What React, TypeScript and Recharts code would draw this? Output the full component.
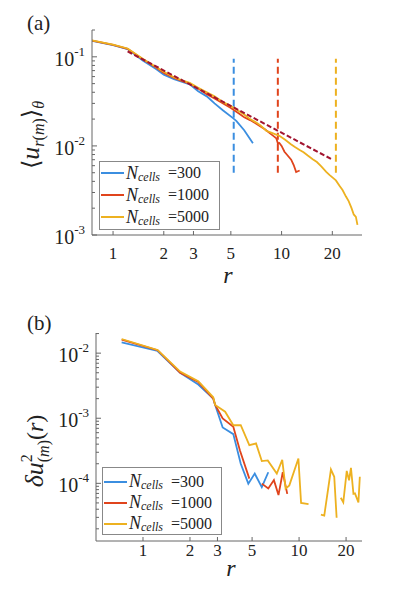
import React from 'react';
import { LineChart, Line, XAxis, YAxis, ReferenceLine } from 'recharts';

const SERIF = "'Times New Roman', 'Liberation Serif', Tinos, 'Nimbus Roman', 'Noto Serif', 'DejaVu Serif', serif";
const C300 = '#3b8ee0';
const C1000 = '#e0441c';
const C5000 = '#edb120';
const CFIT = '#a2142f';
const AXIS = '#666';

// ---------- panel (a) ----------
const rA300 = [0.75, 1.0, 1.22, 1.5, 1.8, 2.0, 2.3, 2.6, 2.85, 3.2, 3.6, 4.0, 4.5, 5.15, 5.4, 6.0, 6.76];
const uA300 = [0.151, 0.135, 0.122, 0.091, 0.073, 0.063, 0.056, 0.052, 0.049, 0.041, 0.036, 0.030, 0.025, 0.0205, 0.019, 0.015, 0.0107];

const rA1000 = [0.75, 1.0, 1.22, 1.5, 1.8, 2.0, 2.3, 2.6, 2.85, 3.2, 3.6, 4.0, 4.5, 5.0, 5.5, 6.0, 6.5, 7.0, 7.5, 8.0, 8.5, 9.0, 9.3, 9.5, 9.7, 10.0, 10.4, 10.8, 11.4, 11.8, 12.2, 12.5, 12.8];
const uA1000 = [0.152, 0.136, 0.123, 0.094, 0.076, 0.066, 0.058, 0.053, 0.050, 0.044, 0.038, 0.034, 0.030, 0.0266, 0.0235, 0.021, 0.0195, 0.018, 0.0165, 0.0153, 0.0139, 0.0128, 0.0122, 0.0107, 0.0108, 0.0100, 0.0086, 0.0079, 0.0070, 0.0061, 0.0051, 0.0052, 0.0053];

const rA5000 = [0.75, 1.0, 1.22, 1.5, 1.8, 2.0, 2.3, 2.6, 2.85, 3.2, 3.6, 4.0, 4.5, 5.0, 5.5, 6.0, 6.5, 7.0, 7.5, 8.1, 8.6, 9.2, 9.7, 10.5, 11.3, 12.0, 12.8, 13.5, 14.3, 15.3, 16.2, 17.2, 18.4, 19.3, 20.1, 21.0, 22.0, 23.0, 24.1, 25.0, 26.0, 26.8, 27.6, 28.2];
const uA5000 = [0.153, 0.137, 0.124, 0.095, 0.077, 0.068, 0.059, 0.054, 0.051, 0.045, 0.040, 0.036, 0.031, 0.028, 0.025, 0.0225, 0.020, 0.0185, 0.017, 0.0148, 0.0142, 0.0135, 0.0130, 0.0117, 0.0105, 0.0097, 0.0090, 0.0085, 0.0078, 0.0071, 0.0066, 0.0059, 0.0051, 0.0047, 0.0044, 0.0041, 0.0036, 0.0032, 0.0027, 0.0024, 0.0020, 0.0017, 0.0016, 0.0013];

const fitR = [1.22, 19.8];
const fitU = [0.115, 0.0071];

const cutoffR = [5.2, 9.5, 21];
const cutoffU = [0.005, 0.095];

// ---------- panel (b) ----------
const rB300 = [0.73, 1.24, 1.73, 2.26, 2.82, 2.9, 3.24, 3.79, 4.23, 4.73, 5.2, 5.77, 6.35];
const dB300 = [0.0146, 0.0108, 0.0050, 0.0033, 0.0020, 0.0016, 0.00072, 0.00057, 0.00020, 0.0000989, 0.000141, 0.0000872, 0.000148];

const rB1000 = [0.73, 1.24, 1.73, 2.26, 2.82, 2.9, 3.24, 3.79, 4.18, 4.8, 5.3, 5.77, 6.35, 6.9, 7.38, 7.86, 8.4];
const dB1000 = [0.0162, 0.0111, 0.0050, 0.0036, 0.0020, 0.0016, 0.00099, 0.00074, 0.00032, 0.000118, null, 0.0000989, 0.0000831, 0.000112, 0.000066, 0.000148, 0.000069];

const rB5000 = [0.73, 1.24, 1.73, 2.26, 2.82, 2.9, 3.36, 3.79, 4.23, 4.8, 5.3, 5.77, 6.3, 7.2, 7.8, 8.2, 8.66, 9.9, 10.3, 11.5, 12.5, 13.8, 14.5, 16, 16.8, 17.4, 18.0, 18.5, 19.2, 20.2, 20.9, 21.5, 22.3, 22.8, 24, 24.5];
const dB5000 = [0.0165, 0.0112, 0.0052, 0.0037, 0.0021, 0.0016, 0.00126, 0.00078, 0.00078, 0.000385, 0.00041, 0.00022, 0.000225, 0.000141, 0.00023, 0.000083, 0.000093, 0.00024, 0.00005, 0.000048, null, 0.000033, 0.000032, 0.000163, 0.000126, 0.0000296, null, 0.00006, 0.000051, 0.000155, 0.000111, 0.000173, 0.000069, 0.00007, 0.000051, 0.000126];

// ---------- ticks / labels ----------
const xTicks = [1, 2, 3, 5, 10, 20];
const yTicksA = [0.001, 0.002, 0.003, 0.004, 0.005, 0.006, 0.007, 0.008, 0.009, 0.01, 0.02, 0.03, 0.04, 0.05, 0.06, 0.07, 0.08, 0.09, 0.1, 0.2];
const yTicksB = [0.00002, 0.00003, 0.00004, 0.00005, 0.00006, 0.00007, 0.00008, 0.00009, 0.0001, 0.0002, 0.0003, 0.0004, 0.0005, 0.0006, 0.0007, 0.0008, 0.0009, 0.001, 0.002, 0.003, 0.004, 0.005, 0.006, 0.007, 0.008, 0.009, 0.01, 0.02];
const seriesNames = ['300', '1000', '5000'];
const seriesColors = [C300, C1000, C5000];

const zip = (r: number[], v: (number | null)[]) => r.map((x, i) => ({ r: x, v: v[i] }));

const XTick = (off: number) => (props: any) => {
  const { x, y, payload } = props;
  return (
    <g>
      <line x1={x} x2={x} y1={y} y2={y - 4} stroke={AXIS} />
      <text x={x} y={y + off} textAnchor="middle" style={{ fontFamily: SERIF }} fontSize={17} fill="#222">
        {payload.value}
      </text>
    </g>
  );
};

const YTick = (props: any) => {
  const { x, y, payload } = props;
  const e = Math.log10(payload.value);
  const major = Math.abs(e - Math.round(e)) < 1e-6;
  return (
    <g>
      <line x1={x} x2={x + (major ? 5 : 3)} y1={y} y2={y} stroke={AXIS} />
      {major && (
        <text x={x - 7} y={y + 9} textAnchor="end" style={{ fontFamily: SERIF }} fontSize={20} fill="#222">
          10<tspan dy={-10} fontSize={13}>{'-' + Math.abs(Math.round(e))}</tspan>
        </text>
      )}
    </g>
  );
};

const LegendBox = ({ left, top, width, height, rowH, padTop }: any) => (
  <div
    style={{
      position: 'absolute', left, top, width, height, boxSizing: 'border-box', paddingTop: padTop,
      border: '1px solid #888', background: '#fff', fontFamily: SERIF, color: '#222',
    }}
  >
    {seriesNames.map((n, i) => (
      <div key={n} style={{ display: 'flex', alignItems: 'center', height: rowH, whiteSpace: 'nowrap' }}>
        <span style={{ display: 'inline-block', width: 23, height: 2, background: seriesColors[i], marginLeft: 1, marginRight: 2 }} />
        <span style={{ fontSize: 18, fontStyle: 'italic' }}>N</span>
        <span style={{ fontSize: 12, fontStyle: 'italic', position: 'relative', top: 4, marginRight: 8 }}>cells</span>
        <span style={{ fontSize: 16 }}>={n}</span>
      </div>
    ))}
  </div>
);

export default function App() {
  const a300 = zip(rA300, uA300);
  const a1000 = zip(rA1000, uA1000);
  const a5000 = zip(rA5000, uA5000);
  const fit = zip(fitR, fitU);
  const b300 = zip(rB300, dB300);
  const b1000 = zip(rB1000, dB1000);
  const b5000 = zip(rB5000, dB5000);

  return (
    <div style={{ position: 'absolute', left: 0, top: 0, width: 399, height: 607, background: '#fff', overflow: 'hidden', fontFamily: SERIF }}>
      {/* panel a */}
      <div style={{ position: 'absolute', left: 0, top: 0 }}>
        <LineChart width={399} height={300} margin={{ top: 30, right: 37, bottom: 0, left: 0 }}>
          <XAxis
            type="number" dataKey="r" scale="log" domain={[0.75, 30]} allowDataOverflow
            ticks={xTicks} interval={0} tickSize={0} tickMargin={0} tickLine={false}
            tick={XTick(24)} height={65} axisLine={{ stroke: AXIS }}
          />
          <YAxis
            type="number" dataKey="v" scale="log" domain={[0.001, 0.2]} allowDataOverflow
            ticks={yTicksA} interval={0} tickSize={0} tickMargin={0} tickLine={false}
            tick={YTick} width={92} axisLine={{ stroke: AXIS }}
          />
          {cutoffR.map((rc, i) => (
            <ReferenceLine
              key={rc}
              segment={[{ x: rc, y: cutoffU[0] }, { x: rc, y: cutoffU[1] }]}
              stroke={seriesColors[i]} strokeWidth={2} strokeDasharray="7 4"
            />
          ))}
          <Line data={a300} dataKey="v" stroke={C300} strokeWidth={1.8} dot={false} isAnimationActive={false} />
          <Line data={a1000} dataKey="v" stroke={C1000} strokeWidth={1.8} dot={false} isAnimationActive={false} />
          <Line data={a5000} dataKey="v" stroke={C5000} strokeWidth={1.8} dot={false} isAnimationActive={false} />
          <Line data={fit} dataKey="v" stroke={CFIT} strokeWidth={2} strokeDasharray="5 2.5" dot={false} isAnimationActive={false} />
        </LineChart>
      </div>

      {/* panel b */}
      <div style={{ position: 'absolute', left: 0, top: 300 }}>
        <LineChart width={399} height={307} margin={{ top: 33, right: 37, bottom: 0, left: 0 }}>
          <XAxis
            type="number" dataKey="r" scale="log" domain={[0.5, 25.3]} allowDataOverflow
            ticks={xTicks} interval={0} tickSize={0} tickMargin={0} tickLine={false}
            tick={XTick(15)} height={66} axisLine={{ stroke: AXIS }}
          />
          <YAxis
            type="number" dataKey="v" scale="log" domain={[0.000013, 0.0204]} allowDataOverflow
            ticks={yTicksB} interval={0} tickSize={0} tickMargin={0} tickLine={false}
            tick={YTick} width={96} axisLine={{ stroke: AXIS }}
          />
          <Line data={b300} dataKey="v" stroke={C300} strokeWidth={1.8} dot={false} isAnimationActive={false} />
          <Line data={b1000} dataKey="v" stroke={C1000} strokeWidth={1.8} dot={false} isAnimationActive={false} />
          <Line data={b5000} dataKey="v" stroke={C5000} strokeWidth={1.8} dot={false} isAnimationActive={false} />
        </LineChart>
      </div>

      <LegendBox left={99} top={161} width={121} height={69} rowH={22} padTop={0} />
      <LegendBox left={102} top={467} width={120} height={68} rowH={21} padTop={3} />

      <svg width={399} height={607} style={{ position: 'absolute', left: 0, top: 0, pointerEvents: 'none', fontFamily: SERIF }}>
        <text x={27} y={30} fontSize={21} fill="#222">(a)</text>
        <text x={27} y={330} fontSize={21} fill="#222">(b)</text>
        <text x={228} y={283} textAnchor="middle" fontSize={24} fontStyle="italic" fill="#222">r</text>
        <text x={231} y={576} textAnchor="middle" fontSize={24} fontStyle="italic" fill="#222">r</text>
        <text transform="translate(39,135) rotate(-90)" textAnchor="middle" fill="#222">
          <tspan fontSize={24}>⟨</tspan>
          <tspan fontSize={26} fontStyle="italic">u</tspan>
          <tspan fontSize={16} dy={5} fontStyle="italic">r</tspan>
          <tspan fontSize={16}>(</tspan>
          <tspan fontSize={16} fontStyle="italic">m</tspan>
          <tspan fontSize={16}>)</tspan>
          <tspan fontSize={24} dy={-5}>⟩</tspan>
          <tspan fontSize={16} dy={5} fontStyle="italic">θ</tspan>
        </text>
        <text transform="translate(43,451) rotate(-90)" textAnchor="middle" fill="#222">
          <tspan fontSize={26} fontStyle="italic">δu</tspan>
          <tspan fontSize={16} dy={-11}>2</tspan>
          <tspan fontSize={16} dx={-8} dy={17}>(</tspan>
          <tspan fontSize={16} fontStyle="italic">m</tspan>
          <tspan fontSize={16}>)</tspan>
          <tspan fontSize={24} dy={-6}>(</tspan>
          <tspan fontSize={24} fontStyle="italic">r</tspan>
          <tspan fontSize={24}>)</tspan>
        </text>
      </svg>
    </div>
  );
}
